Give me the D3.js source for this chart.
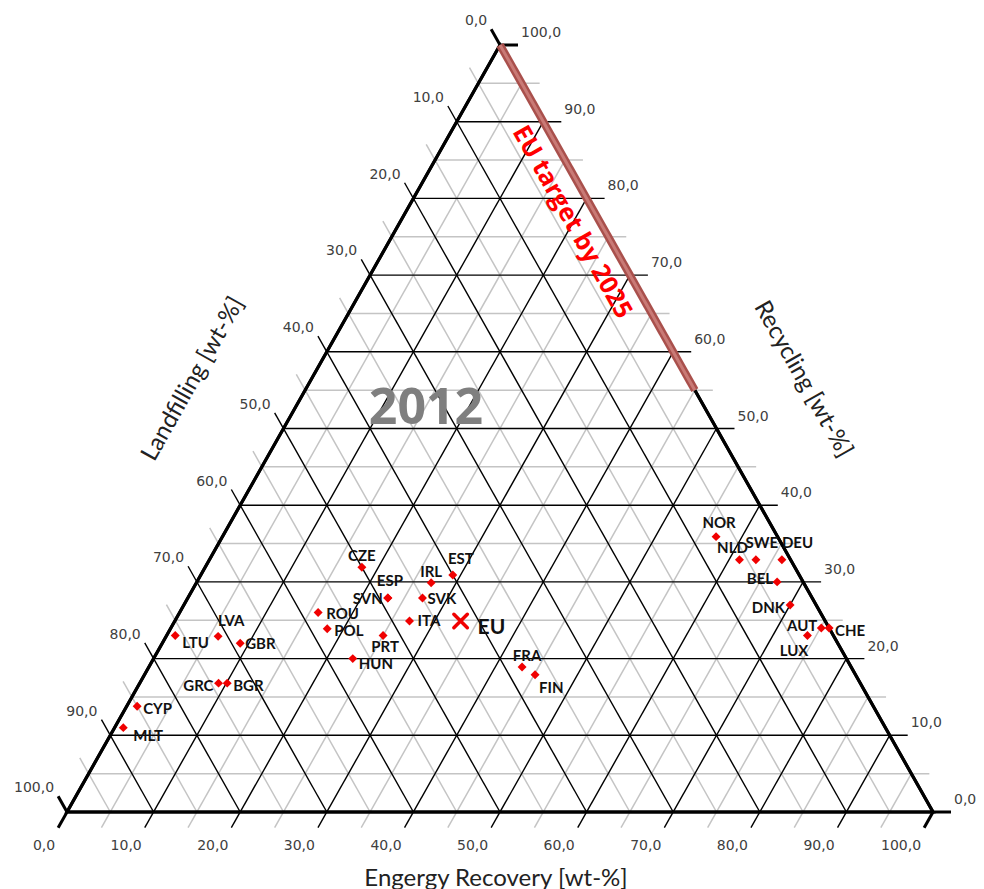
<!DOCTYPE html>
<html>
<head>
<meta charset="utf-8">
<script src="https://cdn.jsdelivr.net/npm/d3@7"></script>
<style>
  body { margin: 0; background: #fff; }
  svg { display: block; }
  .tick-label { font-family: 'DejaVu Sans', sans-serif; font-size: 14px; fill: #404040; }
  .title { font-family: Lato, 'Open Sans', sans-serif; font-size: 24px; fill: #222; }
  .country { font-family: Lato, 'Open Sans', sans-serif; font-size: 15px; font-weight: bold; fill: #111; }
</style>
</head>
<body>
<svg id="chart" width="984" height="889"></svg>
<script>
/* Chart data (wt-% energy recovery / recycling, landfilling is the rest)
--------------------------------------------------- */
const countries = ['NOR', 'NLD', 'SWE', 'DEU', 'BEL', 'DNK', 'AUT', 'CHE', 'LUX',
  'CZE', 'ESP', 'IRL', 'EST', 'SVN', 'SVK', 'ROU', 'ITA', 'POL', 'PRT', 'HUN', 'FRA', 'FIN',
  'LTU', 'LVA', 'GBR', 'GRC', 'BGR', 'CYP', 'MLT'];
const energyRecovery = [57, 61.2, 63.1, 66.1, 67, 70, 75.1, 76, 74,
  18.1, 23.1, 27.1, 29.1, 23.1, 27.1, 16, 27.1, 18.1, 25, 23, 43.1, 45.1,
  1, 6, 9, 9.1, 10.1, 1.2, 1];
const recycling = [35.9, 32.9, 32.9, 32.9, 30, 27, 24, 24, 23,
  31.9, 27.9, 29.9, 30.9, 27.9, 27.9, 26, 24.9, 23.9, 23, 20, 18.9, 17.9,
  23, 22.9, 22, 16.8, 16.8, 13.8, 11];
const euAverage = { name: 'EU', energy: 33, recycling: 24.9 };
const targetRecycling = [55, 100];
const majorTicks = d3.range(0, 101, 10);
const minorTicks = d3.range(5, 100, 10);
const yearLabel = '2012';

/* Label placement next to each marker [dx, dy, anchor]
--------------------------------------------------- */
const labelPlacement = {
  NOR: [3, -15, 'middle'], NLD: [-7, -13, 'middle'], SWE: [6, -18, 'middle'], DEU: [0, -18, 'start'],
  BEL: [-4, -4, 'end'], DNK: [-5, 2, 'end'], AUT: [-4, -3, 'end'], CHE: [6, 2, 'start'],
  LUX: [1, 14, 'end'], CZE: [0, -12, 'middle'], ESP: [-11, -18, 'start'], IRL: [0, -12, 'middle'],
  EST: [8, -17, 'middle'], SVN: [-5, 0, 'end'], SVK: [5, 0, 'start'], ROU: [8, 0, 'start'],
  ITA: [8, -1, 'start'], POL: [7, 1, 'start'], PRT: [2, 10, 'middle'], HUN: [6, 4, 'start'],
  FRA: [5, -12, 'middle'], FIN: [4, 12, 'start'], LTU: [7, 6, 'start'], LVA: [13, -16, 'middle'],
  GBR: [5, 0, 'start'], GRC: [-5, 2, 'end'], BGR: [6, 2, 'start'], CYP: [6, 2, 'start'],
  MLT: [10, 7, 'start'],
};

/* Scales: ternary (E, R) -> screen
--------------------------------------------------- */
const svg = d3.select('#chart');
const x = d3.scaleLinear().domain([0, 1]).range([67, 933]);
const y = d3.scaleLinear().domain([0, 1]).range([812, 45]);
const pt = (e, r) => [x(e / 100 + r / 200), y(r / 100)];
const locale = d3.formatLocale({ decimal: ',', thousands: '.', grouping: [3], currency: ['', ''] });
const fmt = locale.format('.1f');

const apex = pt(0, 100);
const cornerLeft = pt(0, 0);
const cornerRight = pt(100, 0);
const unit = (a, b) => {
  const dx = b[0] - a[0], dy = b[1] - a[1], len = Math.hypot(dx, dy);
  return [dx / len, dy / len];
};
const dirE = unit(apex, cornerLeft);   // extension below the bottom edge
const dirL = unit(cornerRight, apex);  // extension beyond the left edge
const dirR = [1, 0];                   // extension beyond the right edge
const tickLen = 18;
const ext = (p, d) => [p[0] + d[0] * tickLen, p[1] + d[1] * tickLen];

// grid lines for a value v (with the outer tick included)
const gridLines = v => [
  { axis: 'E', v, a: ext(pt(v, 0), dirE), b: pt(v, 100 - v) },
  { axis: 'R', v, a: ext(pt(100 - v, v), dirR), b: pt(0, v) },
  { axis: 'L', v, a: ext(pt(0, 100 - v), dirL), b: pt(100 - v, 0) },
];
const line = d => `M${d.a[0]},${d.a[1]}L${d.b[0]},${d.b[1]}`;

/* Grid
--------------------------------------------------- */
svg.append('g')
  .selectAll('path')
  .data(minorTicks.flatMap(gridLines))
  .join('path')
  .attr('d', line)
  .attr('stroke', '#c4c4c4')
  .attr('stroke-width', 1.5)
  .attr('fill', 'none');

svg.append('g')
  .selectAll('path')
  .data(majorTicks.flatMap(gridLines))
  .join('path')
  .attr('d', line)
  .attr('stroke', '#000')
  .attr('stroke-width', d => (d.v === 0 || d.v === 100 ? 3 : 1.4))
  .attr('fill', 'none');

// outline
svg.append('path')
  .attr('d', `M${apex}L${cornerLeft}L${cornerRight}Z`)
  .attr('fill', 'none')
  .attr('stroke', '#000')
  .attr('stroke-width', 3.2)
  .attr('stroke-linejoin', 'miter');

/* Tick labels
--------------------------------------------------- */
const tickLabels = svg.append('g').attr('class', 'tick-label');

majorTicks.forEach(v => {
  const eEnd = ext(pt(v, 0), dirE);
  tickLabels.append('text')
    .attr('x', eEnd[0] - 3).attr('y', eEnd[1] + 17)
    .attr('text-anchor', 'end').attr('dominant-baseline', 'central')
    .text(fmt(v));

  const rEnd = ext(pt(100 - v, v), dirR);
  tickLabels.append('text')
    .attr('x', rEnd[0] + 3).attr('y', rEnd[1] - 13)
    .attr('dominant-baseline', 'central')
    .text(fmt(v));

  const lEnd = ext(pt(0, 100 - v), dirL);
  tickLabels.append('text')
    .attr('x', lEnd[0] - 4).attr('y', lEnd[1] - 9)
    .attr('text-anchor', 'end').attr('dominant-baseline', 'central')
    .text(fmt(v));
});

/* EU target line along the right edge
--------------------------------------------------- */
const t0 = pt(100 - targetRecycling[0], targetRecycling[0]);
const t1 = pt(100 - targetRecycling[1], targetRecycling[1]);
svg.append('path')
  .attr('d', `M${t0}L${t1}`)
  .attr('stroke', '#a9504c')
  .attr('stroke-width', 8);
svg.append('path')
  .attr('d', `M${t0}L${t1}`)
  .attr('stroke', '#c97a76')
  .attr('stroke-width', 3);

const angle = Math.atan2(cornerLeft[1] - apex[1], apex[0] - cornerLeft[0]) * 180 / Math.PI;
svg.append('text')
  .attr('transform', `translate(574,221) rotate(${angle})`)
  .attr('text-anchor', 'middle').attr('dominant-baseline', 'central')
  .attr('font-family', "'Open Sans', sans-serif").attr('font-weight', 'bold')
  .attr('font-size', 25).attr('fill', '#ff0000')
  .text('EU target by 2025');

/* Titles
--------------------------------------------------- */
svg.append('text').attr('class', 'title')
  .attr('x', 496).attr('y', 876)
  .attr('text-anchor', 'middle').attr('dominant-baseline', 'central')
  .text('Engergy Recovery [wt-%]');
svg.append('text').attr('class', 'title')
  .attr('transform', `translate(191,378) rotate(${-angle})`)
  .attr('text-anchor', 'middle').attr('dominant-baseline', 'central')
  .text('Landfilling [wt-%]');
svg.append('text').attr('class', 'title')
  .attr('transform', `translate(805,378) rotate(${angle})`)
  .attr('text-anchor', 'middle').attr('dominant-baseline', 'central')
  .text('Recycling [wt-%]');

svg.append('text')
  .attr('x', 426).attr('y', 405)
  .attr('text-anchor', 'middle').attr('dominant-baseline', 'central')
  .attr('font-family', "'Open Sans', sans-serif").attr('font-weight', 'bold')
  .attr('font-size', 50).attr('fill', '#7f7f7f')
  .text(yearLabel);

/* Country markers and labels
--------------------------------------------------- */
const points = countries.map((name, i) => ({ name, p: pt(energyRecovery[i], recycling[i]) }));
const diamond = d3.symbol().type(d3.symbolSquare).size(40);

const marks = svg.append('g')
  .selectAll('g')
  .data(points)
  .join('g')
  .attr('transform', d => `translate(${d.p[0]},${d.p[1]})`);

marks.append('path')
  .attr('d', diamond)
  .attr('transform', 'rotate(45)')
  .attr('fill', '#f00000');

marks.append('text')
  .attr('class', 'country')
  .attr('x', d => labelPlacement[d.name][0])
  .attr('y', d => labelPlacement[d.name][1])
  .attr('text-anchor', d => labelPlacement[d.name][2])
  .attr('dominant-baseline', 'central')
  .text(d => d.name);

// EU average as a cross
const eu = pt(euAverage.energy, euAverage.recycling);
const euG = svg.append('g').attr('transform', `translate(${eu[0]},${eu[1]})`);
euG.append('path')
  .attr('d', d3.symbol().type(d3.symbolX).size(120))
  .attr('stroke', '#f00000')
  .attr('stroke-width', 3.5)
  .attr('stroke-linecap', 'round');
euG.append('text')
  .attr('x', 17).attr('y', 4)
  .attr('dominant-baseline', 'central')
  .attr('font-family', 'Lato, sans-serif').attr('font-weight', 'bold')
  .attr('font-size', 21).attr('fill', '#111')
  .text(euAverage.name);
</script>
</body>
</html>
